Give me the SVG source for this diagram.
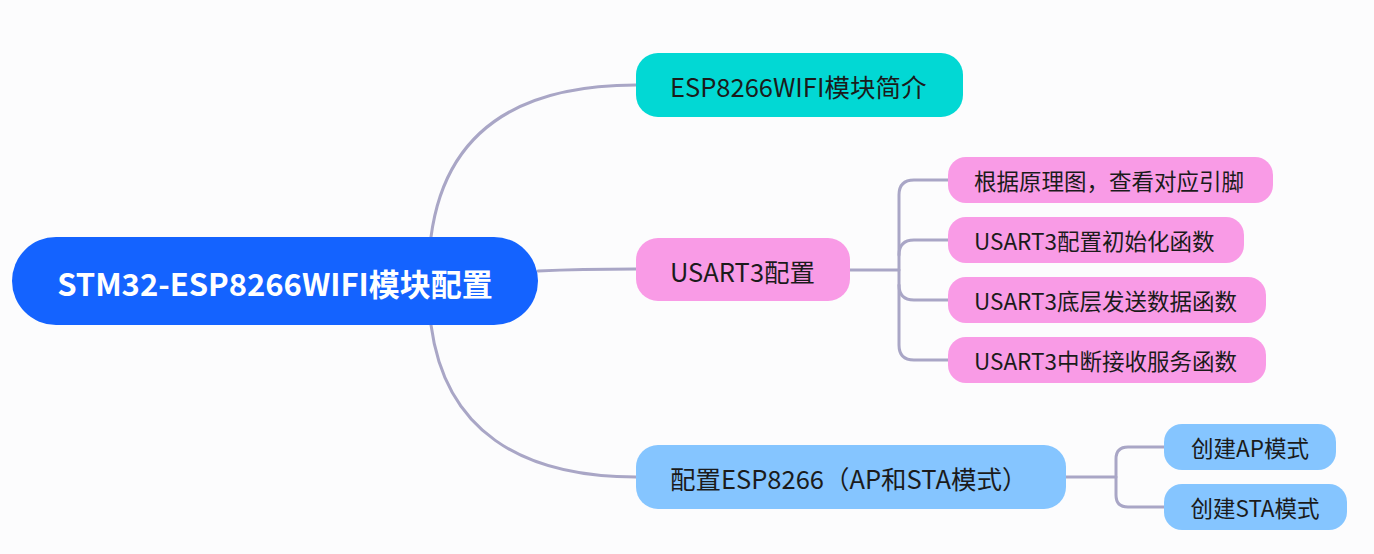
<svg xmlns="http://www.w3.org/2000/svg" width="1374" height="554" viewBox="0 0 1374 554">
<style>
.t{font-family:"Noto Sans CJK SC","Noto Sans",sans-serif;fill:#1b1b1b;dominant-baseline:central}
.root{font-size:31px;font-weight:bold;fill:#ffffff}
.c1{font-size:25.5px}
.c2{font-size:22.5px}
.pink{fill:#F99BE6}
.teal{fill:#02D8D4}
.blue{fill:#85C5FF}
.ln{fill:none;stroke:#A9A6C6;stroke-width:3;stroke-linecap:round}
</style>
<rect width="1374" height="554" fill="#FCFCFD"/>
<g id="connectors">
<path class="ln" d="M431,237 C445,130 520,85 636,85"/>
<path class="ln" d="M538,271 C580,269 600,269 636,269"/>
<path class="ln" d="M431,325 C445,430 520,477 636,477"/>
<path class="ln" d="M850,270 H899"/>
<path class="ln" d="M948,180 H914 Q899,180 899,195 V345 Q899,360 914,360 H948"/>
<path class="ln" d="M899,255 Q899,240 914,240 H948"/>
<path class="ln" d="M899,285 Q899,300 914,300 H948"/>
<path class="ln" d="M1066,477 H1116"/>
<path class="ln" d="M1164,447 H1128 Q1116,447 1116,459 V495 Q1116,507 1128,507 H1164"/>
</g>
<g id="root">
<rect x="12" y="237" width="526" height="88" rx="44" fill="#1463FF"/>
<text class="t root" x="275" y="282" text-anchor="middle">STM32-ESP8266WIFI模块配置</text>
</g>
<g id="n1">
<rect class="teal" x="636" y="53" width="327" height="64" rx="22"/>
<text class="t c1" x="670" y="85">ESP8266WIFI模块简介</text>
</g>
<g id="n2">
<rect class="pink" x="636" y="238" width="214" height="63" rx="22"/>
<text class="t c1" x="670" y="270">USART3配置</text>
</g>
<g id="n3">
<rect class="blue" x="636" y="445" width="430" height="64" rx="22"/>
<text class="t c1" x="670" y="477">配置ESP8266（AP和STA模式）</text>
</g>
<g id="n2a">
<rect class="pink" x="948" y="157" width="325" height="46" rx="18"/>
<text class="t c2" x="974" y="180">根据原理图，查看对应引脚</text>
</g>
<g id="n2b">
<rect class="pink" x="948" y="217" width="296" height="46" rx="18"/>
<text class="t c2" x="974" y="240">USART3配置初始化函数</text>
</g>
<g id="n2c">
<rect class="pink" x="948" y="277" width="318" height="46" rx="18"/>
<text class="t c2" x="974" y="300">USART3底层发送数据函数</text>
</g>
<g id="n2d">
<rect class="pink" x="948" y="337" width="318" height="46" rx="18"/>
<text class="t c2" x="974" y="360">USART3中断接收服务函数</text>
</g>
<g id="n3a">
<rect class="blue" x="1164" y="424" width="172" height="46" rx="18"/>
<text class="t c2" x="1250" y="447" text-anchor="middle">创建AP模式</text>
</g>
<g id="n3b">
<rect class="blue" x="1164" y="484" width="183" height="46" rx="18"/>
<text class="t c2" x="1255" y="507" text-anchor="middle">创建STA模式</text>
</g>
</svg>
